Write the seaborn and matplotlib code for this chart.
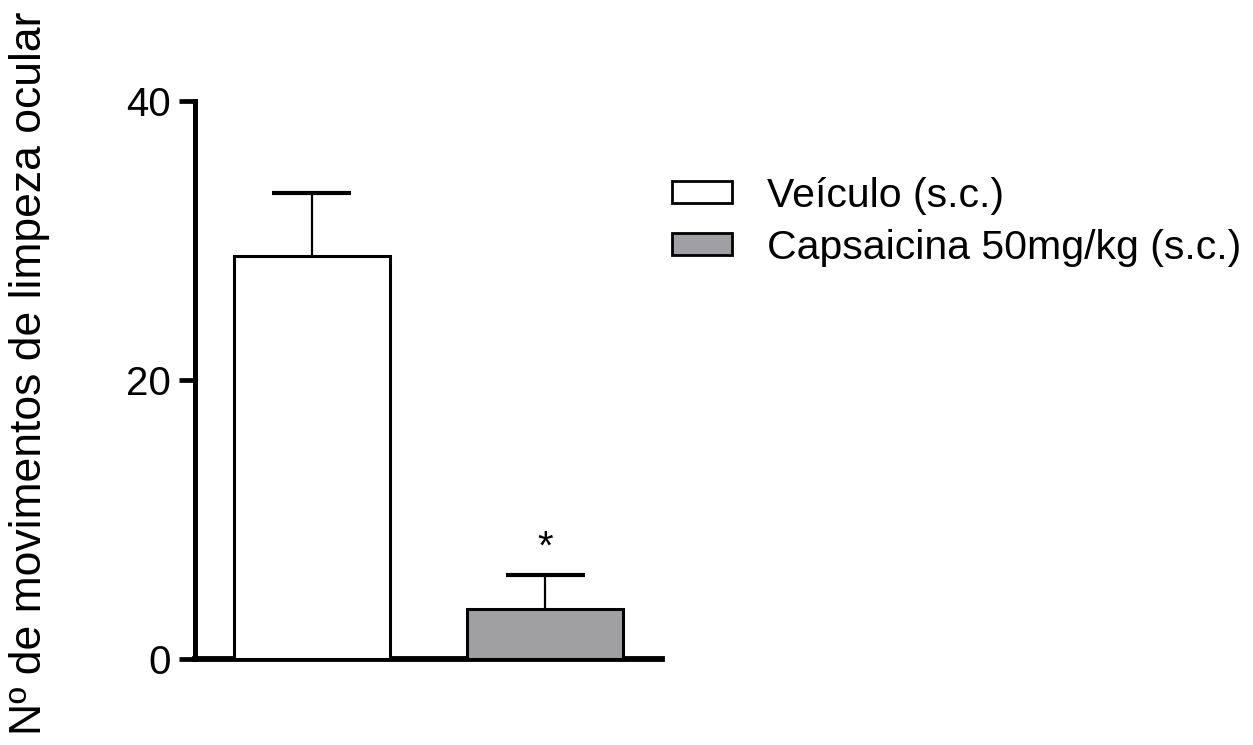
import matplotlib
matplotlib.use("Agg")
import matplotlib.pyplot as plt
from matplotlib.patches import Patch
import seaborn as sns
import pandas as pd
import numpy as np

# Eye-wiping movements per group (mean + SEM)
groups = ["Veículo (s.c.)", "Capsaicina 50mg/kg (s.c.)"]
means = [28.9, 3.55]
sems = [4.5, 2.5]
colors = ["#ffffff", "#a09fa4"]
y_ticks = [0, 20, 40]
y_label = "Nº de movimentos de limpeza ocular"
sig_marks = ["", "*"]

sns.set_theme(style="ticks")
plt.rcParams["font.family"] = ["Liberation Sans", "DejaVu Sans"]
plt.rcParams["text.color"] = "black"

W, H = 1253, 745
fig = plt.figure(figsize=(W / 100, H / 100), dpi=100)
ax = fig.add_axes([195 / W, (H - 659) / H, 467 / W, (659 - 101) / H])

df = pd.DataFrame({"group": groups, "mean": means})
sns.barplot(data=df, x="group", y="mean", hue="group", palette=colors,
            order=groups, hue_order=groups, width=0.67, errorbar=None,
            edgecolor="black", linewidth=2.2, legend=False, ax=ax, zorder=3)

# Upper-only SEM whiskers with a cap
x = np.arange(len(groups))
tops = np.array(means) + np.array(sems)
cap_half = 0.17
ax.vlines(x, means, tops, colors="black", linewidth=1.6, zorder=2)
ax.hlines(tops, x - cap_half, x + cap_half, colors="black", linewidth=3.0,
          zorder=2)

for xi, t, mark in zip(x, tops, sig_marks):
    if mark:
        ax.text(xi, t + 0.6, mark, ha="center", va="bottom",
                fontsize=29, color="black")

ax.set_xlim(-0.5, 1.5)
ax.set_ylim(0, 40)
ax.set_yticks(y_ticks)
ax.set_xticks([])
ax.set_xlabel("")
ax.set_ylabel("")
ax.tick_params(axis="y", length=11.5, width=3.4, pad=6, labelsize=29,
               color="black", labelcolor="black")
for side in ["top", "right"]:
    ax.spines[side].set_visible(False)
ax.spines["left"].set_linewidth(3.6)
ax.spines["bottom"].set_linewidth(4.2)
ax.spines["left"].set_color("black")
ax.spines["bottom"].set_color("black")

fig.text(30 / W, 0.5 + (H / 2 - 373) / H, y_label, rotation=90,
         ha="center", va="center", fontsize=32, color="black")

handles = [Patch(facecolor=c, edgecolor="black", linewidth=2.0) for c in colors]
leg = fig.legend(handles, groups, loc="upper left",
                 bbox_to_anchor=(672 / W, (H - 177) / H), frameon=False,
                 fontsize=29.5, handlelength=1.46, handleheight=0.45,
                 handletextpad=0.85, labelspacing=0.33, borderpad=0,
                 borderaxespad=0)
for t in leg.get_texts():
    t.set_color("black")

fig.savefig("out.png", dpi=100, facecolor="white")
